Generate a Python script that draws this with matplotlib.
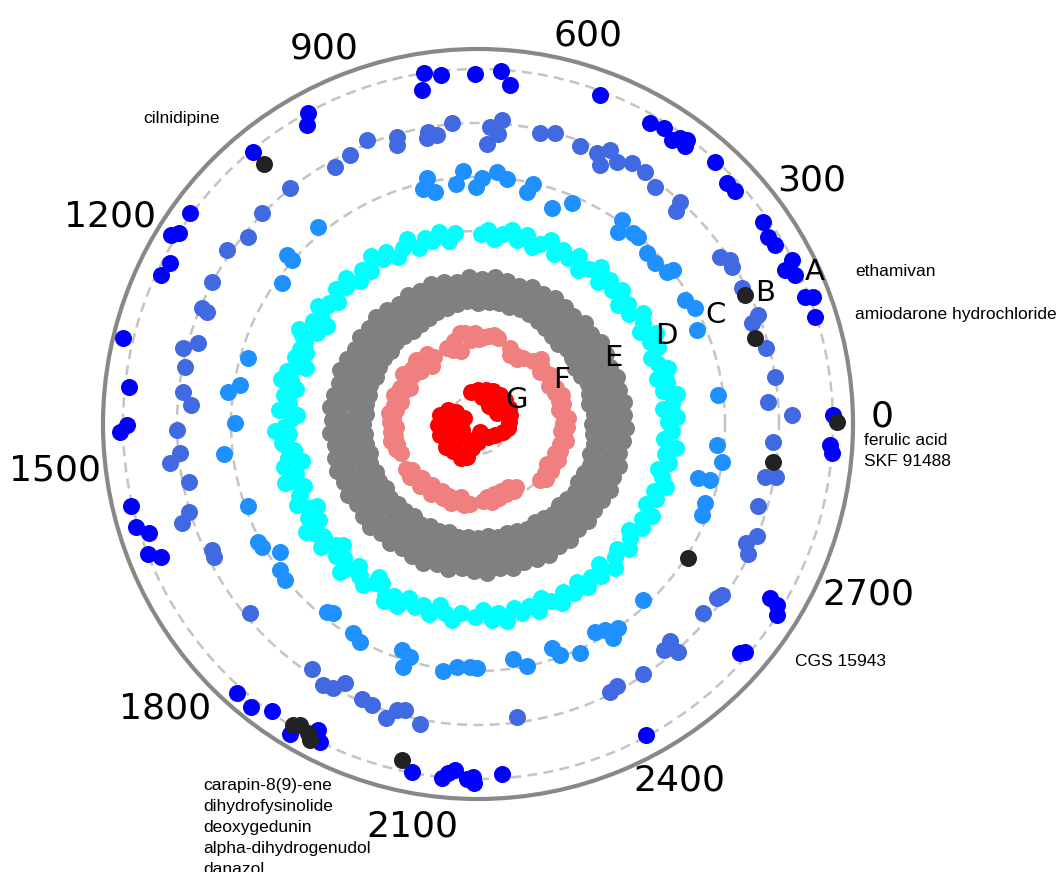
import numpy as np
import matplotlib.pyplot as plt

# polar "similarity map": angle = position in ranked list, radius = cluster ring
N_TOTAL = 2900
tick_vals = [0, 300, 600, 900, 1200, 1500, 1800, 2100, 2400, 2700]
tick_label_r = [404, 415, 407, 409, 424, 425, 421, 404, 407, 424]
tick_label_dtheta = [1.6, -0.7, -0.2, 0.3, 1.2, -0.4, -1.5, 0.0, 1.8, 1.7]

ring_names = ['A', 'B', 'C', 'D', 'E', 'F', 'G']
ring_r = [355, 301, 247, 193, 137, 82, 30]
ring_colors = ['blue', 'royalblue', 'dodgerblue', 'cyan', 'grey', 'lightcoral', 'red']

# ring A (angle in degrees, radial distance)
A_ang = [98.7, 96.1, 99.5, 90.5, 86.3, 84.6, 69.7, 60.3, 57.9, 55.7, 54.8, 53.7, 53.3,
         47.8, 44.1, 42.2, 35.3, 32.8, 31.1, 27.6, 26.6, 25.2, 21.2, 20.8, 17.6, 1.5,
         356.6, 355.3, 329.2, 328.8, 327.4, 318.8, 319.5, 298.4, 259.3, 264.2, 265.1,
         266.2, 268.2, 269.2, 269.4, 273.9, 228.1, 231.3, 234.3, 238.8, 242.4, 243.6,
         193.3, 196.8, 198.3, 201.5, 202.8, 181.3, 180.2, 166.4, 174.0, 152.4, 154.8,
         143.8, 147.4, 148.4, 129.6, 118.7, 119.8]
A_rad = [355, 351, 339, 350, 354, 341, 351, 347, 350, 344, 350, 353, 347,
         353, 347, 347, 349, 345, 347, 354, 343, 350, 351, 358, 354, 355,
         353, 355, 340, 350, 355, 348, 351, 353, 354, 356, 350,
         347, 355, 353, 359, 351, 361, 363, 353, 363, 345, 355,
         357, 357, 347, 355, 344, 358, 351, 365, 351, 348, 350,
         357, 355, 360, 353, 354, 344]

B_ang = [111.3, 105.8, 106.2, 99.7, 100.1, 98.1, 94.9, 87.7, 85.5, 86.1, 88.2, 78.0,
         75.2, 69.9, 66.3, 64.8, 64.3, 62.1, 59.5, 56.5, 53.2, 47.7, 47.0, 34.6, 33.1,
         31.7, 27.3, 21.3, 20.2, 14.8, 9.0, 4.3, 1.6, 356.5, 349.5, 349.9, 343.7, 338.1,
         336.1, 334.3, 325.0, 324.0, 320.0, 311.3, 309.5, 311.5, 303.4, 297.9, 296.2,
         277.6, 259.1, 255.7, 254.2, 252.6, 249.3, 247.1, 242.8, 235.9, 239.3, 241.2,
         219.7, 205.3, 206.7, 196.9, 198.5, 191.3, 185.6, 187.2, 181.1, 173.8, 176.2,
         169.0, 165.6, 163.9, 157.2, 157.5, 151.9, 145.3, 140.9, 135.7, 128.5, 119.1, 115.4]
B_rad = [305, 298, 291, 296, 290, 292, 302, 297, 305, 291, 280, 298,
         301, 296, 296, 286, 304, 297, 303, 302, 296, 300, 291, 294, 301,
         299, 297, 300, 292, 298, 301, 291, 314, 296, 292, 303, 292, 301,
         293, 300, 298, 296, 294, 303, 293, 290, 300, 297, 299,
         296, 306, 295, 297, 308, 300, 298, 291, 296, 304, 301,
         296, 294, 296, 302, 312, 295, 299, 310, 301, 297, 288,
         298, 305, 291, 299, 293, 302, 305, 296, 302, 302, 294, 298]

C_ang = [101.7, 103.2, 100.5, 93.4, 95.2, 90.5, 89.1, 85.7, 83.2, 78.1, 77.1, 71.1,
         67.0, 54.8, 53.9, 50.9, 49.4, 45.3, 42.3, 38.8, 38.3, 30.9, 28.1, 23.2, 6.9,
         355.0, 351.1, 346.2, 346.4, 340.8, 337.9, 313.2, 301.7, 302.2, 304.5, 299.4,
         294.0, 288.3, 289.5, 278.5, 281.4, 268.1, 269.8, 265.1, 261.9, 251.4, 252.8,
         253.7, 241.6, 239.1, 231.2, 232.5, 218.9, 216.4, 212.9, 208.2, 209.7, 199.6,
         186.7, 179.8, 172.7, 170.7, 164.0, 144.3, 138.5, 138.6, 129.1]
C_rad = [251, 241, 236, 253, 241, 237, 246, 253, 247, 237, 246, 228,
         240, 250, 238, 246, 246, 240, 239, 243, 248, 241, 246, 238, 242,
         240, 247, 227, 239, 240, 242, 241, 242, 253, 247, 239,
         251, 236, 245, 238, 247, 243, 244, 244, 249, 238, 254,
         243, 248, 244, 241, 238, 248, 246, 236, 250, 249, 244,
         256, 243, 252, 241, 239, 241, 255, 248, 254]

# dense rings as (angle, radius) pairs
D_pts = [(0.5, 190), (2, 199), (4.5, 186), (6, 195), (8.5, 201), (10, 188), (12.5, 194), (14, 184),
         (16.5, 198), (18.5, 190), (21, 185), (23, 196), (25.5, 191), (27, 200), (29.5, 186),
         (31.5, 193), (34, 199), (36, 187), (38.5, 192), (40.5, 184), (43, 197), (45, 189),
         (47.5, 195), (50, 186), (52, 199), (54.5, 191), (57, 184), (59, 196), (61.5, 189),
         (64, 194), (66, 186), (68.5, 198), (71, 190), (73, 185), (75.5, 195), (78, 188),
         (80, 197), (82.5, 192), (85, 186), (87, 194), (89, 190), (97, 192), (99, 185),
         (101.5, 196), (104, 189), (106, 194), (108.5, 186), (111, 198), (113, 191), (115.5, 185),
         (118, 195), (120, 190), (122.5, 199), (125, 187), (127, 193), (129.5, 185), (132, 197),
         (134, 190), (136.5, 196), (139, 186), (141, 192), (143.5, 199), (146, 188), (148, 194),
         (150.5, 185), (153, 197), (155, 191), (157.5, 186), (160, 195), (162, 189), (164.5, 198),
         (167, 192), (169, 185), (171.5, 196), (174, 190), (176, 199), (178.5, 187), (181, 194),
         (183, 189), (185.5, 197), (188, 186), (190, 193), (192.5, 199), (195, 188), (197, 195),
         (199.5, 185), (202, 192), (204, 198), (206.5, 189), (209, 194), (211, 186), (213.5, 197),
         (216, 191), (218, 199), (220.5, 187), (223, 194), (225, 189), (227.5, 197), (230, 185),
         (232, 192), (234.5, 198), (237, 190), (239, 186), (241.5, 195), (244, 191), (246, 199),
         (248.5, 187), (251, 194), (253, 189), (255.5, 196), (258, 185), (260, 192), (262.5, 198),
         (265, 190), (269, 193), (271.5, 186), (274, 196), (276, 190), (278.5, 199), (281, 187),
         (283, 194), (285.5, 189), (288, 197), (290, 185), (292.5, 192), (295, 198), (297, 188),
         (299.5, 194), (302, 186), (304, 197), (306.5, 190), (309, 195), (311, 185), (313.5, 199),
         (316, 191), (318, 187), (320.5, 196), (323, 190), (325, 184), (327.5, 194), (330, 189),
         (332, 197), (334.5, 186), (337, 193), (339, 188), (341.5, 198), (344, 191), (346, 185),
         (348.5, 195), (351, 189), (353, 199), (355.5, 187), (358, 194),
         (142, 192), (147, 180), (152, 203), (157, 193), (162, 181), (167, 202), (172, 192),
         (177, 181), (182, 203), (187, 192), (192, 180), (197, 202), (202, 193), (207, 181),
         (212, 203), (217, 192), (222, 181), (227, 202), (232, 193), (237, 182), (242, 201),
         (247, 192)]

E_pts = [(0, 114), (5, 116), (10, 113), (15, 115), (20, 117), (25, 114), (30, 112), (35, 115),
         (40, 116), (45, 113), (50, 115), (55, 117), (60, 119), (65, 121), (70, 122), (75, 121),
         (80, 123), (85, 122), (90, 121), (95, 123), (100, 122), (105, 120), (110, 119), (115, 117),
         (120, 115), (125, 113), (130, 115), (135, 116), (140, 113), (145, 115), (150, 114),
         (155, 112), (160, 115), (165, 113), (170, 114), (175, 112), (180, 115), (185, 113),
         (190, 114), (195, 112), (200, 115), (205, 113), (210, 114), (215, 112), (220, 115),
         (225, 113), (230, 114), (235, 112), (240, 115), (245, 113), (250, 114), (255, 112),
         (260, 115), (265, 113), (270, 114), (275, 112), (280, 115), (285, 113), (290, 114),
         (295, 116), (300, 113), (305, 115), (310, 117), (315, 114), (320, 116), (325, 118),
         (330, 115), (335, 117), (340, 119), (345, 116), (350, 118), (355, 115),
         (2.5, 125), (7.5, 127), (12.5, 124), (17.5, 126), (22.5, 123), (27.5, 125), (32.5, 127),
         (37.5, 124), (42.5, 126), (47.5, 123), (52.5, 125), (57.5, 127), (62.5, 126), (67.5, 128),
         (72.5, 129), (77.5, 127), (82.5, 129), (87.5, 128), (92.5, 130), (97.5, 128), (102.5, 129),
         (107.5, 127), (112.5, 128), (117.5, 126), (122.5, 125), (127.5, 123), (132.5, 126),
         (137.5, 124), (142.5, 126), (147.5, 123), (152.5, 125), (157.5, 127), (162.5, 124),
         (167.5, 126), (172.5, 123), (177.5, 125), (182.5, 127), (187.5, 124), (192.5, 126),
         (197.5, 123), (202.5, 125), (207.5, 127), (212.5, 124), (217.5, 126), (222.5, 123),
         (227.5, 125), (232.5, 127), (237.5, 124), (242.5, 126), (247.5, 123), (252.5, 125),
         (257.5, 127), (262.5, 124), (267.5, 126), (272.5, 123), (277.5, 125), (282.5, 127),
         (287.5, 124), (292.5, 126), (297.5, 123), (302.5, 125), (307.5, 127), (312.5, 124),
         (317.5, 126), (322.5, 123), (327.5, 125), (332.5, 127), (337.5, 124), (342.5, 126),
         (347.5, 123), (352.5, 125), (357.5, 127),
         (1, 136), (6, 138), (11, 135), (16, 137), (21, 134), (26, 136), (31, 138), (36, 135),
         (41, 137), (46, 134), (51, 136), (56, 138), (61, 135), (66, 137), (71, 139), (76, 136),
         (81, 138), (86, 137), (91, 139), (96, 136), (101, 138), (106, 135), (111, 137), (116, 134),
         (121, 136), (126, 138), (131, 135), (136, 137), (141, 134), (146, 136), (151, 138),
         (156, 135), (161, 137), (166, 134), (171, 136), (176, 138), (181, 135), (186, 137),
         (191, 134), (196, 136), (201, 138), (206, 135), (211, 137), (216, 134), (221, 136),
         (226, 138), (231, 135), (236, 137), (241, 134), (246, 136), (251, 138), (256, 135),
         (261, 137), (266, 134), (271, 136), (276, 138), (281, 135), (286, 137), (291, 134),
         (296, 136), (301, 138), (306, 135), (311, 137), (316, 134), (321, 136), (326, 138),
         (331, 135), (336, 137), (341, 134), (346, 136), (351, 138), (356, 135),
         (3.5, 146), (8.5, 148), (13.5, 145), (18.5, 147), (23.5, 144), (28.5, 146), (33.5, 148),
         (38.5, 145), (43.5, 147), (48.5, 144), (53.5, 146), (58.5, 148), (63.5, 145), (68.5, 147),
         (73.5, 144), (78.5, 146), (83.5, 148), (88.5, 145), (93.5, 147), (98.5, 144), (103.5, 146),
         (108.5, 148), (113.5, 145), (118.5, 147), (123.5, 144), (128.5, 146), (133.5, 148),
         (138.5, 145), (143.5, 147), (148.5, 144), (153.5, 146), (158.5, 148), (163.5, 145),
         (168.5, 147), (173.5, 149), (178.5, 146), (183.5, 148), (188.5, 145), (193.5, 147),
         (198.5, 149), (203.5, 146), (208.5, 148), (213.5, 145), (218.5, 147), (223.5, 149),
         (228.5, 146), (233.5, 148), (238.5, 145), (243.5, 147), (248.5, 149), (253.5, 146),
         (258.5, 148), (263.5, 145), (268.5, 147), (273.5, 149), (278.5, 146), (283.5, 148),
         (288.5, 145), (293.5, 147), (298.5, 149), (303.5, 146), (308.5, 148), (313.5, 145),
         (318.5, 147), (323.5, 144), (328.5, 146), (333.5, 148), (338.5, 145), (343.5, 147),
         (348.5, 144), (353.5, 146), (358.5, 148)]

F_pts = [(56, 80), (59, 76), (62, 78), (65, 76), (67, 83),
         (77, 88), (80, 90), (83, 89), (86, 87), (89, 85), (92, 91), (95, 84), (98, 92),
         (101, 93), (103, 75), (106, 86), (109, 78), (112, 82),
         (123, 80), (126, 86), (128, 74), (131, 82), (134, 89), (137, 78), (140, 86), (143, 81),
         (146, 90), (149, 84), (152, 77), (155, 86), (158, 82), (161, 89), (164, 80), (167, 86),
         (170, 83), (173, 90), (176, 85), (179, 88), (182, 82), (185, 87), (188, 84), (191, 89),
         (194, 83), (197, 86), (201, 82),
         (49, 84), (46, 90), (43, 86), (40, 81), (37, 85), (34, 88), (31, 84), (28, 80), (25, 86),
         (22, 83), (19, 89), (16, 84), (13, 87), (10, 82), (7, 86), (4, 90), (1, 85), (358, 89),
         (355, 83), (352, 87), (349, 90), (346, 84),
         (342, 86), (339, 82), (336, 88), (333, 85), (330, 80), (327, 87), (324, 83), (321, 88),
         (318, 84),
         (212, 85), (215, 80), (218, 86), (221, 82), (224, 78), (227, 85), (230, 81), (233, 77),
         (236, 84), (239, 80), (242, 76), (245, 82), (248, 78), (251, 84), (254, 79), (257, 75),
         (260, 82), (264, 80), (274, 77), (277, 74), (280, 79), (283, 72), (286, 77), (289, 71),
         (292, 75), (295, 70), (298, 76), (301, 73)]

G_pts = [(102.5, 33), (90, 34), (77.3, 35), (65.3, 36), (53.1, 36), (40.9, 36), (27.9, 35),
         (15.1, 33), (3.2, 31), (352.9, 30), (342.3, 26), (327.1, 20), (307.6, 16), (284, 8),
         (82.1, 27), (63.4, 29), (45, 29), (24, 28), (31, 22), (57.7, 21),
         (166.7, 39), (155, 33), (151.4, 25), (156.8, 15), (181.4, 40), (176.4, 32), (182.5, 23),
         (200.6, 17), (196.1, 40), (205, 33), (216, 27), (227.1, 19), (216, 39), (227.1, 37),
         (239.9, 35), (252.5, 35), (242.9, 38), (256, 25), (270, 18)]

# highlighted compounds (black)
hit_ang = [25.8, 17.2, 0.3, 352.7, 327.5, 129.4, 238.4, 239.4, 241.2, 242.0, 257.3]
hit_rad = [297, 290, 359, 297, 249, 337, 353, 350, 353, 358, 344]

# compound name labels: text, pixel x (left), pixel y (centre)
label_text = ['ethamivan', 'amiodarone hydrochloride', 'ferulic acid\nSKF 91488', 'CGS 15943',
              'cilnidipine',
              'carapin-8(9)-ene\ndihydrofysinolide\ndeoxygedunin\nalpha-dihydrogenudol\ndanazol']
label_px = [(855, 271), (855, 315), (864, 451), (795, 661), (143, 119), (203, 827)]

W, H = 1059, 872
fig = plt.figure(figsize=(W / 100, H / 100), dpi=100)
ax = fig.add_axes([103 / W, 1 - 799 / H, 750 / W, 750 / H], projection='polar')

ax.set_ylim(0, 375)
ax.set_axisbelow(True)
ax.set_yticks(ring_r)
ax.set_yticklabels([])
ax.yaxis.grid(True, linestyle=(0, (4, 2.5)), color='#c4c4c4', linewidth=1.8)
ax.xaxis.grid(False)
ax.spines['polar'].set_color('#888888')
ax.spines['polar'].set_linewidth(3)

tick_theta = np.deg2rad(np.array(tick_vals) / N_TOTAL * 360)
ax.set_xticks(tick_theta)
ax.set_xticklabels([])
for th, dth, r, v in zip(tick_theta, tick_label_dtheta, tick_label_r, tick_vals):
    ax.text(th + np.deg2rad(dth), r, str(v), fontsize=26, ha='center', va='center_baseline')


def draw(ang, rad, color):
    ax.scatter(np.deg2rad(ang), rad, s=150, c=color, linewidths=0, zorder=3)


draw(A_ang, A_rad, ring_colors[0])
draw(B_ang, B_rad, ring_colors[1])
draw(C_ang, C_rad, ring_colors[2])
for pts, col in zip([D_pts, E_pts, F_pts, G_pts], ring_colors[3:]):
    a, r = zip(*pts)
    draw(a, r, col)
draw(hit_ang, hit_rad, '#222222')

for name, r in zip(ring_names, ring_r):
    ax.annotate(name, (np.deg2rad(23.2), r), xytext=(0, 3), textcoords='offset points',
                fontsize=21, ha='left', va='baseline', zorder=5)

for txt, (x, y) in zip(label_text, label_px):
    fig.text(x / W, 1 - y / H, txt, fontsize=12.5, family='Liberation Sans',
             ha='left', va='center', linespacing=1.5)

fig.savefig('out.png', dpi=100)
